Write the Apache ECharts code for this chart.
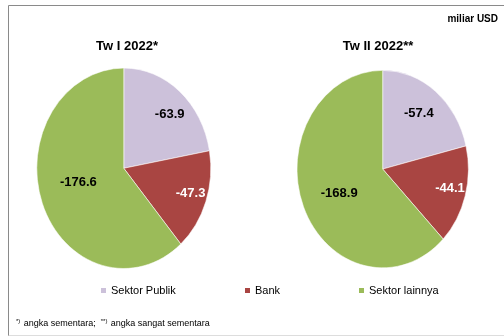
<!DOCTYPE html>
<html>
<head>
<meta charset="utf-8">
<script src="https://cdn.jsdelivr.net/npm/echarts@6/dist/echarts.min.js"></script>
<style>
  html, body { margin: 0; padding: 0; background: #fff; }
  #wrap { position: relative; width: 504px; height: 336px; overflow: hidden; background: #fff; }
  #pies { position: absolute; left: 0; top: 0; width: 504px; height: 336px; transform-origin: 0 168.5px; }
  #main { position: absolute; left: 0; top: 0; width: 504px; height: 336px; }
</style>
</head>
<body>
<div id="wrap">
  <div id="pies"></div>
  <div id="main"></div>
</div>
<script>
// ---- data ----
const categories = ['Sektor Publik', 'Bank', 'Sektor lainnya'];
const periods = ['Tw I 2022*', 'Tw II 2022**'];
const valuesTwI = [-63.9, -47.3, -176.6];
const valuesTwII = [-57.4, -44.1, -168.9];
const unitText = 'miliar USD';

// ---- style / layout ----
const COLORS = ['#CCC1DA', '#A94542', '#9BBB59'];
const LABEL_COLORS = ['#000000', '#ffffff', '#000000'];
const PIE_CENTERS = [[123.8, 168.3], [382.7, 169]];
const PIE_R = [87, 85.7];
const Y_SCALE = 1.152;
const LABEL_R = 70;
const LABEL_SHIFT = [[[-1, 2], [-2, 1], [23, -11]], [[-9, 1.5], [-3, 0], [24, -3]]];
const TITLE_POS = [[127, 46], [378, 46]];
const LEGEND_LEFT = [101, 245, 359];
const FONT = 'Liberation Sans, Arial, sans-serif';

const allValues = [valuesTwI, valuesTwII];

// back layer: the pie slices, stretched vertically into ellipses
const pieDiv = document.getElementById('pies');
pieDiv.style.transform = 'scaleY(' + Y_SCALE + ')';
const pies = echarts.init(pieDiv, null, { renderer: 'svg' });
pies.setOption({
  animation: false,
  color: COLORS,
  series: allValues.map((vals, i) => ({
    type: 'pie',
    center: PIE_CENTERS[i],
    radius: PIE_R[i],
    startAngle: 90,
    clockwise: true,
    silent: true,
    label: { show: false },
    labelLine: { show: false },
    itemStyle: { borderColor: 'rgba(255,255,255,0.75)', borderWidth: 0.7 },
    data: vals.map((v, j) => ({ name: categories[j], value: Math.abs(v) }))
  }))
});

// front layer: text, legend and value labels
const chart = echarts.init(document.getElementById('main'));
const legends = categories.map((c, j) => ({
  left: LEGEND_LEFT[j],
  top: 285,
  padding: 0,
  orient: 'horizontal',
  selectedMode: false,
  itemWidth: 5,
  itemHeight: 5,
  textStyle: { fontFamily: FONT, fontSize: 11, color: '#000' },
  data: [{ name: c, icon: 'rect', itemStyle: { color: COLORS[j], opacity: 1, borderWidth: 0 } }]
}));

chart.setOption({
  animation: false,
  legend: legends,
  series: allValues.map((vals, i) => ({
    type: 'pie',
    center: PIE_CENTERS[i],
    radius: LABEL_R * 2,
    startAngle: 90,
    clockwise: true,
    silent: true,
    avoidLabelOverlap: false,
    itemStyle: { color: 'rgba(0,0,0,0)', borderWidth: 0 },
    emphasis: { disabled: true },
    labelLine: { show: false },
    label: {
      show: true,
      position: 'inside',
      fontFamily: FONT,
      fontSize: 13,
      fontWeight: 'bold',
      formatter: (p) => vals[p.dataIndex].toFixed(1)
    },
    labelLayout: (p) => ({ dx: LABEL_SHIFT[i][p.dataIndex][0], dy: LABEL_SHIFT[i][p.dataIndex][1] }),
    data: vals.map((v, j) => ({
      name: categories[j],
      value: Math.abs(v),
      label: { color: LABEL_COLORS[j] }
    }))
  })),
  graphic: [
    { type: 'polyline', silent: true, shape: { points: [[8.5, 336], [8.5, 5.5], [504, 5.5]] },
      style: { fill: 'none', stroke: '#8a8a8a', lineWidth: 1 } },
    { type: 'line', silent: true, shape: { x1: 8.5, y1: 335.5, x2: 504, y2: 335.5 },
      style: { stroke: '#dddddd', lineWidth: 1 } },
    { type: 'text', silent: true, x: 498, y: 19,
      style: { text: unitText, align: 'right', verticalAlign: 'middle', font: 'bold 10px ' + FONT, fill: '#000' } },
    ...periods.map((t, i) => ({
      type: 'text', silent: true, x: TITLE_POS[i][0], y: TITLE_POS[i][1],
      style: { text: t, align: 'center', verticalAlign: 'middle', font: 'bold 13px ' + FONT, fill: '#000' }
    })),
    { type: 'text', silent: true, x: 16, y: 324,
      style: {
        text: '{s|*)} {n|angka sementara;  }{s|**)} {n|angka sangat sementara}',
        verticalAlign: 'middle',
        fill: '#000',
        rich: {
          s: { fontFamily: FONT, fontSize: 6, verticalAlign: 'top', lineHeight: 11, fill: '#000' },
          n: { fontFamily: FONT, fontSize: 9, lineHeight: 11, fill: '#000' }
        }
      } }
  ]
});
</script>
</body>
</html>
